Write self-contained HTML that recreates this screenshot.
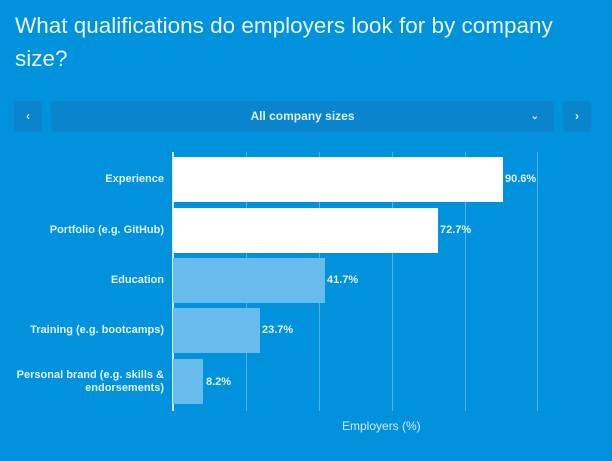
<!DOCTYPE html>
<html><head><style>
body{margin:0;width:612px;height:461px;background:#0092dd;font-family:"Liberation Sans",sans-serif;overflow:hidden;position:relative;color:#fff}
.t{position:absolute;left:15px;top:9px;font-size:22.5px;line-height:33px;color:#eaf5fc;width:590px}
.btn{position:absolute;top:101px;height:31px;background:#0a84cc;border-radius:3px;color:#dceefa;font-size:12px;font-weight:bold;text-align:center;line-height:31px}
.g{position:absolute;top:152px;height:259px;width:1px;background:#4fb2e8}
.bar{position:absolute;left:173px;height:45px}
.w{background:#fff}.l{background:#67bceb}
.lab{position:absolute;right:448px;font-size:11px;font-weight:bold;color:#e2f1fb;text-align:right;line-height:13px}
.v{position:absolute;font-size:11px;font-weight:bold;color:#e2f1fb}
</style></head><body>
<div class="t">What qualifications do employers look for by company size?</div>
<div class="btn" style="left:14px;width:28px">‹</div>
<div class="btn" style="left:51px;width:503px">All company sizes<span style="position:absolute;right:15px;font-size:10px">⌄</span></div>
<div class="btn" style="left:563px;width:28px">›</div>
<div class="g" style="left:246px"></div><div class="g" style="left:319px"></div><div class="g" style="left:392px"></div><div class="g" style="left:465px"></div><div class="g" style="left:537px"></div>
<div class="g" style="left:172px;width:2px;background:#cfe9f8"></div>
<div class="bar w" style="top:157px;width:330px"></div>
<div class="bar w" style="top:208px;width:265px"></div>
<div class="bar l" style="top:258px;width:152px"></div>
<div class="bar l" style="top:308px;width:87px"></div>
<div class="bar l" style="top:359px;width:30px"></div>
<div class="lab" style="top:173px">Experience</div>
<div class="lab" style="top:224px">Portfolio (e.g. GitHub)</div>
<div class="lab" style="top:274px">Education</div>
<div class="lab" style="top:324px">Training (e.g. bootcamps)</div>
<div class="lab" style="top:369px">Personal brand (e.g. skills &amp;<br>endorsements)</div>
<div class="v" style="left:505px;top:173px">90.6%</div>
<div class="v" style="left:440px;top:224px">72.7%</div>
<div class="v" style="left:327px;top:274px">41.7%</div>
<div class="v" style="left:262px;top:324px">23.7%</div>
<div class="v" style="left:206px;top:376px">8.2%</div>
<div style="position:absolute;left:342px;top:419px;font-size:12px;color:#d8eefb">Employers (%)</div>
</body></html>
